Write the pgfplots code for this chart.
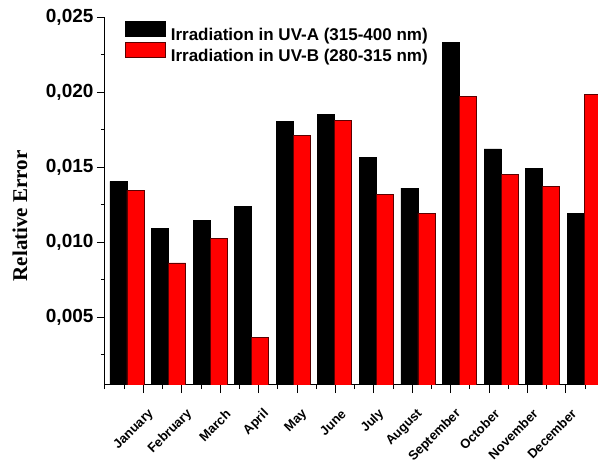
\documentclass[border=0pt]{standalone}
\usepackage{pgfplots}
\pgfplotsset{compat=1.18}
\usepackage{fontspec}
\newfontfamily\arialf{Liberation Sans}
\newfontfamily\timesf{Liberation Serif}
\definecolor{redfill}{RGB}{255,0,0}
\definecolor{redline}{RGB}{90,0,0}
\begin{document}
\begin{tikzpicture}
\begin{axis}[
  at={(0pt,0pt)}, anchor=south west,
  scale only axis, width=493pt, height=367.7pt,
  xmin=0.471, xmax=12.33,
  ymin=0.0005, ymax=0.025,
  axis lines=left,
  axis line style={-, line width=1pt},
  tick align=outside,
  major tick length=8pt, minor tick length=4pt,
  every tick/.style={black, line width=1pt},
  xtick={1.3947,2.3185,3.2422,4.1660,5.0897,6.0134,6.9372,7.8609,8.7847,9.7084,10.6321,11.5559},
  minor xtick={0.471,0.9329,1.8566,2.7804,3.7041,4.6278,5.5516,6.4753,7.3991,8.3228,9.2465,10.1703,11.0940,12.0178},
  xticklabels={January,February,March,April,May,June,July,August,September,October,November,December},
  xticklabel style={font=\arialf\bfseries\fontsize{13}{15}\selectfont, xshift=10.6pt, yshift=-16.5pt, rotate=45, anchor=east},
  ytick={0.005,0.010,0.015,0.020,0.025},
  minor ytick={0.0025,0.0075,0.0125,0.0175,0.0225},
  yticklabel style={font=\arialf\bfseries\fontsize{19}{22}\selectfont,
    /pgf/number format/.cd, fixed, fixed zerofill, precision=3, use comma, assume math mode=true},
  scaled y ticks=false,
  ylabel={\timesf\bfseries Relative Error},
  ylabel style={font=\fontsize{21}{24}\selectfont, at={(axis description cs:-0.1724,0.46)}, anchor=center, rotate=0},
  legend style={draw=none, fill=none, at={(axis description cs:0.04057,0.99075)}, anchor=north west,
    inner sep=0pt, outer sep=0pt, row sep=0.8pt, column sep=5pt,
    font=\arialf\bfseries\fontsize{17}{20}\selectfont,
    nodes={inner sep=0pt}},
  legend cell align=left,
  legend image code/.code={\draw[#1] (0pt,-1.4pt) rectangle (40pt,13.6pt);},
]
\addplot[ybar, bar width=17pt, bar shift=-8.5pt, fill=black, draw=black, line width=0.8pt]
 coordinates {(1,0.01406) (2,0.01093) (3,0.01144) (4,0.01238) (5,0.01805) (6,0.01854) (7,0.01564) (8,0.01362) (9,0.02333) (10,0.01623) (11,0.01490) (12,0.01193)};
\addlegendentry{Irradiation in UV-A (315-400 nm)}
\addplot[ybar, bar width=17pt, bar shift=8.5pt, fill=redfill, draw=redline, line width=0.8pt]
 coordinates {(1,0.01346) (2,0.00863) (3,0.01029) (4,0.00368) (5,0.01712) (6,0.01810) (7,0.01322) (8,0.01193) (9,0.01974) (10,0.01450) (11,0.01371) (12,0.01987)};
\addlegendentry{Irradiation in UV-B (280-315 nm)}
\end{axis}
\pgfresetboundingbox
\path[use as bounding box] (-105pt,-76pt) rectangle (493pt,385pt);
\end{tikzpicture}
\end{document}
